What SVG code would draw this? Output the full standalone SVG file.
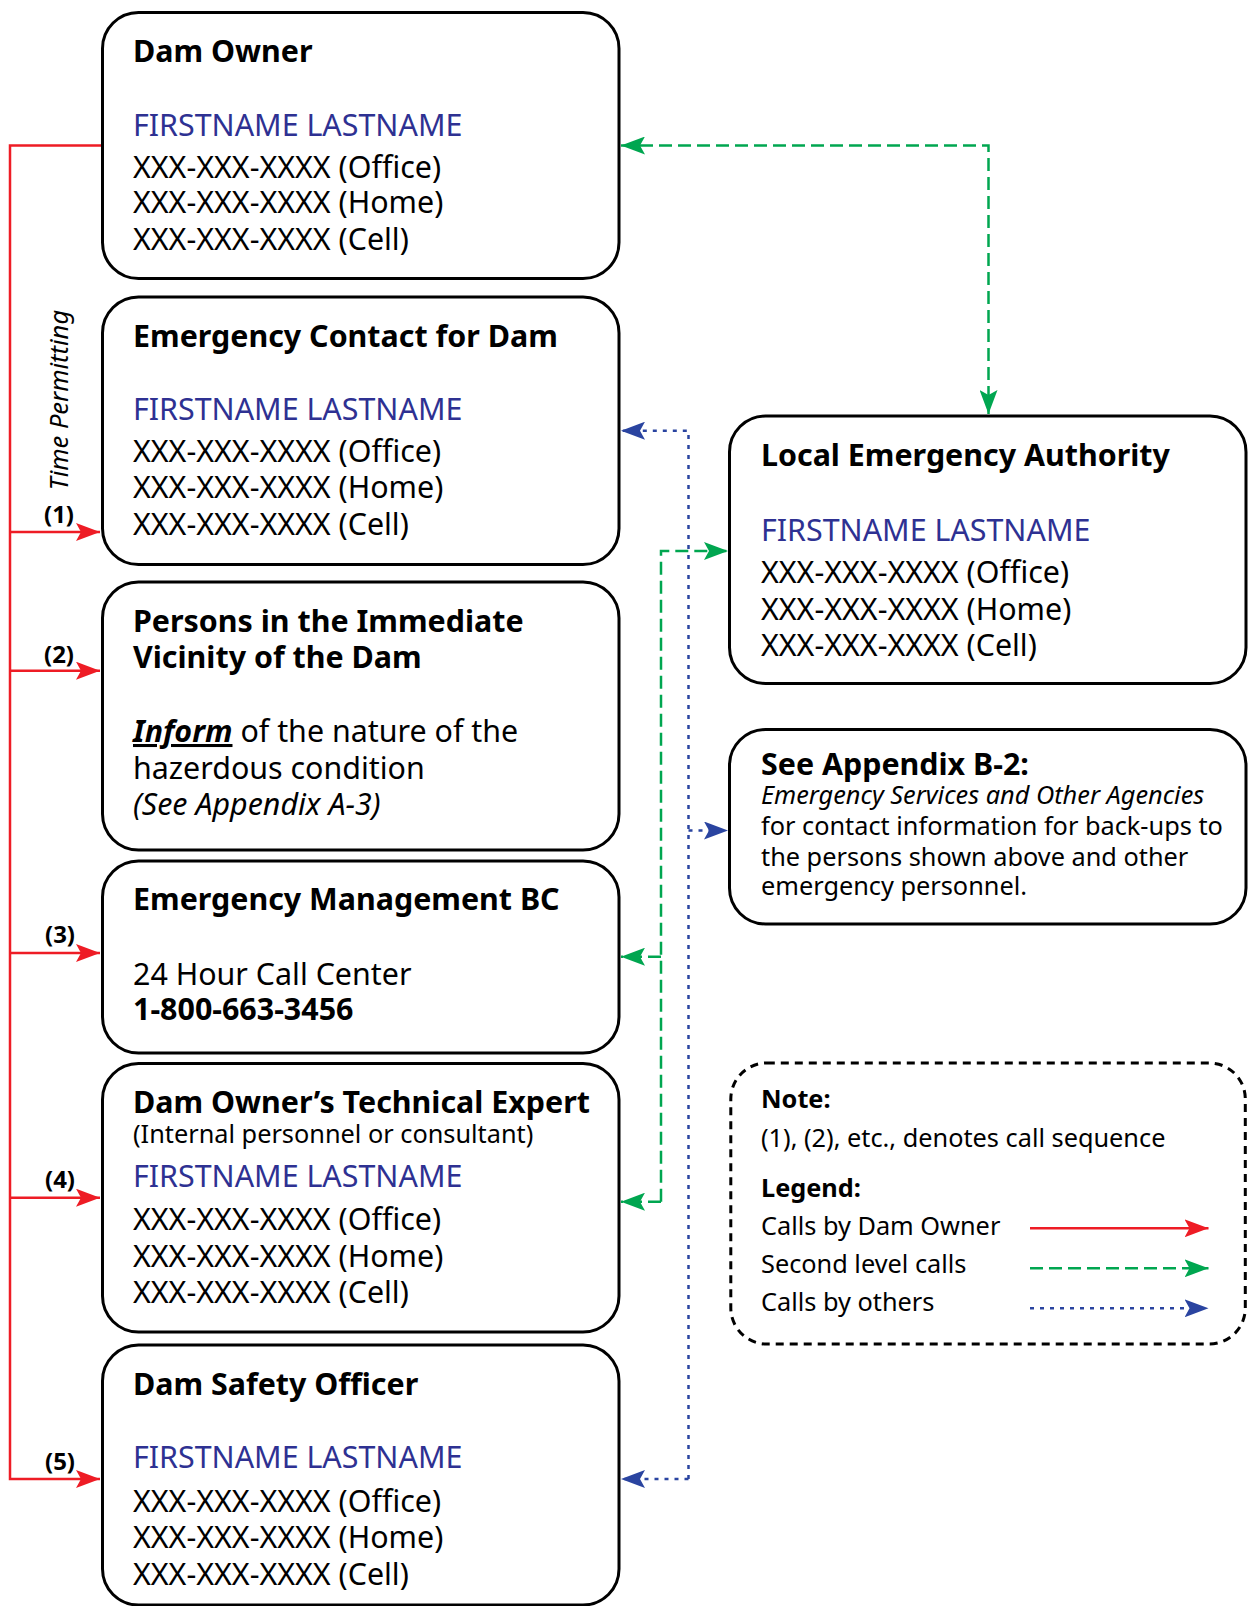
<svg xmlns="http://www.w3.org/2000/svg" width="1248" height="1606" viewBox="0 0 1248 1606">
<style>
text{font-family:"Noto Sans","Open Sans",sans-serif;fill:#000}
.box{fill:#fff;stroke:#000;stroke-width:3}
.leg{fill:none;stroke:#000;stroke-width:3;stroke-dasharray:8 6}
.ti{font-size:30.4px;font-weight:bold}
.nm{font-size:30.4px;fill:#2e3192}
.tx{font-size:30.4px}
.sm{font-size:25.3px}
.smb{font-size:25.3px;font-weight:bold}
.num{font-size:24px;font-weight:bold}
.red{fill:none;stroke:#ee1c25;stroke-width:2.5}
.grn{fill:none;stroke:#00a650;stroke-width:2.5;stroke-dasharray:13 6}
.blu{fill:none;stroke:#2a44a0;stroke-width:2.5;stroke-dasharray:4 6}
</style>
<defs>
<marker id="mr" viewBox="0 0 24 18" refX="24" refY="9" markerWidth="24" markerHeight="18" markerUnits="userSpaceOnUse" orient="auto-start-reverse"><path d="M0,0 L24,9 L0,18 L5,9 Z" fill="#ee1c25"/></marker>
<marker id="mg" viewBox="0 0 24 18" refX="24" refY="9" markerWidth="24" markerHeight="18" markerUnits="userSpaceOnUse" orient="auto-start-reverse"><path d="M0,0 L24,9 L0,18 L5,9 Z" fill="#00a650"/></marker>
<marker id="mb" viewBox="0 0 24 18" refX="24" refY="9" markerWidth="24" markerHeight="18" markerUnits="userSpaceOnUse" orient="auto-start-reverse"><path d="M0,0 L24,9 L0,18 L5,9 Z" fill="#2a44a0"/></marker>
</defs>

<g id="connectors">
<path class="red" d="M102,145.5 H10 V1479 H100" marker-end="url(#mr)"/>
<path class="red" d="M10,532 H100" marker-end="url(#mr)"/>
<path class="red" d="M10,670.7 H100" marker-end="url(#mr)"/>
<path class="red" d="M10,953 H100" marker-end="url(#mr)"/>
<path class="red" d="M10,1197.7 H100" marker-end="url(#mr)"/>
<path class="grn" d="M621,145.5 H988.5 V414" marker-start="url(#mg)" marker-end="url(#mg)"/>
<path class="grn" d="M661,1201.7 V551 H728" marker-end="url(#mg)"/>
<path class="grn" d="M661,956.7 H621" marker-end="url(#mg)"/>
<path class="grn" d="M661,1201.7 H621" marker-end="url(#mg)"/>
<path class="blu" d="M688.5,1479 V430.7 H621" marker-end="url(#mb)"/>
<path class="blu" d="M688.5,1479 H621" marker-end="url(#mb)"/>
<path class="blu" d="M688.5,830.5 H728" marker-end="url(#mb)"/>
</g>

<g id="labels">
<text class="num" x="59" y="523" text-anchor="middle">(1)</text>
<text class="num" x="59" y="663" text-anchor="middle">(2)</text>
<text class="num" x="60" y="943" text-anchor="middle">(3)</text>
<text class="num" x="60" y="1188" text-anchor="middle">(4)</text>
<text class="num" x="60" y="1470" text-anchor="middle">(5)</text>
<text x="0" y="0" transform="translate(67.5,400) rotate(-90)" text-anchor="middle" font-size="25.5" font-style="italic">Time Permitting</text>
</g>

<g id="dam-owner">
<rect class="box" x="102.5" y="12.5" width="516.5" height="266" rx="36"/>
<text class="ti" x="133" y="62">Dam Owner</text>
<text class="nm" x="133" y="135.7">FIRSTNAME LASTNAME</text>
<text class="tx" x="133" y="177.5">XXX-XXX-XXXX (Office)</text>
<text class="tx" x="133" y="213.3">XXX-XXX-XXXX (Home)</text>
<text class="tx" x="133" y="250">XXX-XXX-XXXX (Cell)</text>
</g>

<g id="emergency-contact">
<rect class="box" x="102.5" y="297" width="516.5" height="267.5" rx="36"/>
<text class="ti" x="133" y="346.5">Emergency Contact for Dam</text>
<text class="nm" x="133" y="420">FIRSTNAME LASTNAME</text>
<text class="tx" x="133" y="461.7">XXX-XXX-XXXX (Office)</text>
<text class="tx" x="133" y="498">XXX-XXX-XXXX (Home)</text>
<text class="tx" x="133" y="535">XXX-XXX-XXXX (Cell)</text>
</g>

<g id="persons-vicinity">
<rect class="box" x="102.5" y="582" width="516.5" height="268" rx="36"/>
<text class="ti" x="133" y="631.7">Persons in the Immediate</text>
<text class="ti" x="133" y="668">Vicinity of the Dam</text>
<text class="tx" x="133" y="742"><tspan font-weight="bold" font-style="italic" text-decoration="underline">Inform</tspan> of the nature of the</text>
<text class="tx" x="133" y="779">hazerdous condition</text>
<text class="tx" x="133" y="815" font-style="italic">(See Appendix A-3)</text>
</g>

<g id="embc">
<rect class="box" x="102.5" y="861" width="516.5" height="192" rx="36"/>
<text class="ti" x="133" y="910">Emergency Management BC</text>
<text class="tx" x="133" y="985">24 Hour Call Center</text>
<text class="ti" x="133" y="1020">1-800-663-3456</text>
</g>

<g id="technical-expert">
<rect class="box" x="102.5" y="1063.5" width="516.5" height="268.5" rx="36"/>
<text class="ti" x="133" y="1113">Dam Owner’s Technical Expert</text>
<text class="sm" x="133" y="1143">(Internal personnel or consultant)</text>
<text class="nm" x="133" y="1186.7">FIRSTNAME LASTNAME</text>
<text class="tx" x="133" y="1230">XXX-XXX-XXXX (Office)</text>
<text class="tx" x="133" y="1266.7">XXX-XXX-XXXX (Home)</text>
<text class="tx" x="133" y="1302.7">XXX-XXX-XXXX (Cell)</text>
</g>

<g id="dam-safety-officer">
<rect class="box" x="102.5" y="1345" width="516.5" height="260" rx="36"/>
<text class="ti" x="133" y="1395">Dam Safety Officer</text>
<text class="nm" x="133" y="1468">FIRSTNAME LASTNAME</text>
<text class="tx" x="133" y="1511.7">XXX-XXX-XXXX (Office)</text>
<text class="tx" x="133" y="1548">XXX-XXX-XXXX (Home)</text>
<text class="tx" x="133" y="1585">XXX-XXX-XXXX (Cell)</text>
</g>

<g id="local-emergency-authority">
<rect class="box" x="729.5" y="416" width="516.5" height="267.5" rx="36"/>
<text class="ti" x="761" y="465.5">Local Emergency Authority</text>
<text class="nm" x="761" y="540.7">FIRSTNAME LASTNAME</text>
<text class="tx" x="761" y="583">XXX-XXX-XXXX (Office)</text>
<text class="tx" x="761" y="620">XXX-XXX-XXXX (Home)</text>
<text class="tx" x="761" y="655.5">XXX-XXX-XXXX (Cell)</text>
</g>

<g id="appendix-b2">
<rect class="box" x="729.5" y="729.5" width="516.5" height="194.5" rx="36"/>
<text class="ti" x="761" y="775">See Appendix B-2:</text>
<text class="sm" x="761" y="804" font-style="italic">Emergency Services and Other Agencies</text>
<text class="sm" x="761" y="835">for contact information for back-ups to</text>
<text class="sm" x="761" y="865.5">the persons shown above and other</text>
<text class="sm" x="761" y="895">emergency personnel.</text>
</g>

<g id="legend">
<rect class="leg" x="730.8" y="1063" width="514.5" height="281" rx="36"/>
<text class="smb" x="761" y="1108">Note:</text>
<text class="sm" x="761" y="1147">(1), (2), etc., denotes call sequence</text>
<text class="smb" x="761" y="1197">Legend:</text>
<text class="sm" x="761" y="1235">Calls by Dam Owner</text>
<text class="sm" x="761" y="1273">Second level calls</text>
<text class="sm" x="761" y="1311">Calls by others</text>
<path class="red" d="M1030,1228.3 H1208.5" marker-end="url(#mr)"/>
<path class="grn" d="M1030,1268.3 H1208.5" marker-end="url(#mg)"/>
<path class="blu" d="M1030,1308.3 H1208.5" marker-end="url(#mb)"/>
</g>
</svg>
